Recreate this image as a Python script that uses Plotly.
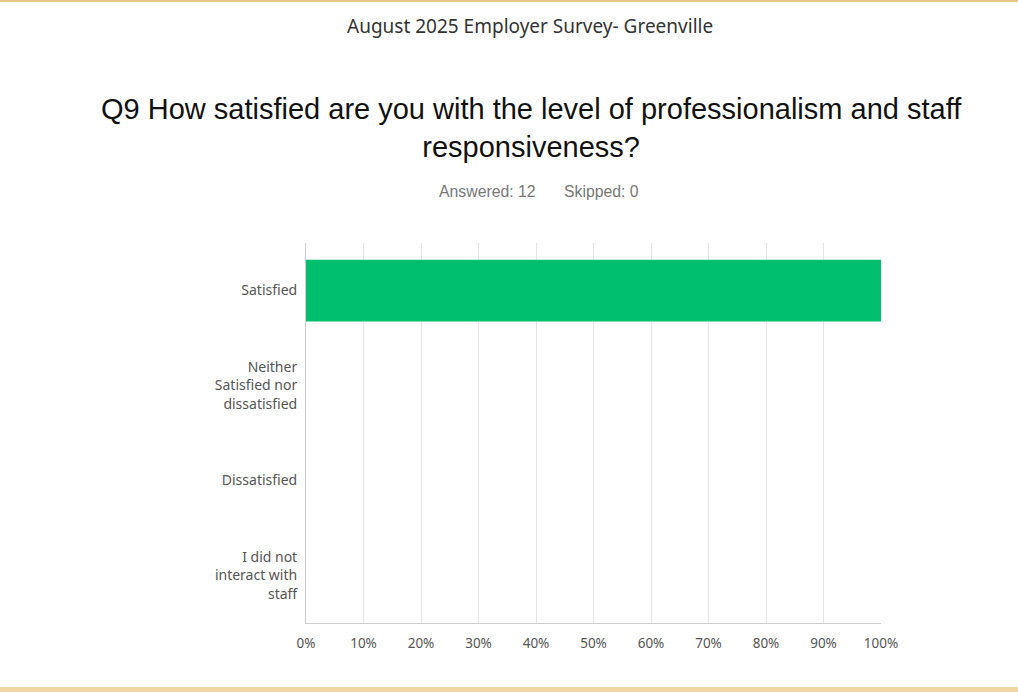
import plotly.graph_objects as go

categories = ["Satisfied", "Neither<br>Satisfied nor<br>dissatisfied", "Dissatisfied", "I did not<br>interact with<br>staff"]
percent_values = [100, 0, 0, 0]
x_tick_values = [0, 10, 20, 30, 40, 50, 60, 70, 80, 90, 100]
x_tick_labels = ["0%", "10%", "20%", "30%", "40%", "50%", "60%", "70%", "80%", "90%", "100%"]

W, H = 1018, 692
L, R, T, B = 306, 881, 243, 623

def xp(px):
    return (px - L) / (R - L)

def yp(py):
    return (B - py) / (B - T)

fig = go.Figure(go.Bar(
    x=percent_values, y=categories, orientation="h",
    marker=dict(color="#00bf6f", line=dict(width=0)),
    hoverinfo="skip",
))

fig.update_layout(
    width=W, height=H,
    margin=dict(l=L, r=W - R, t=T, b=H - B, pad=0),
    paper_bgcolor="white", plot_bgcolor="white",
    bargap=0.35,
    showlegend=False,
    font=dict(family="Noto Sans", color="#333333"),
    xaxis=dict(
        range=[0, 100], tickvals=x_tick_values, ticktext=x_tick_labels,
        showgrid=True, gridcolor="#e6e6e6", gridwidth=1,
        showline=True, linecolor="#cfcfcf", linewidth=1,
        ticks="", ticklabelstandoff=8, zeroline=False,
        tickfont=dict(family="Noto Sans", size=13.5, color="#555555"),
        fixedrange=True,
    ),
    yaxis=dict(
        autorange="reversed",
        showgrid=False, showline=True, linecolor="#cfcfcf", linewidth=1,
        ticks="", ticklabelstandoff=5,
        tickfont=dict(family="Noto Sans", size=14, color="#555555"),
        fixedrange=True,
    ),
    annotations=[
        dict(text="August 2025 Employer Survey- Greenville", x=xp(530), y=yp(26),
             xref="paper", yref="paper", showarrow=False, xanchor="center", yanchor="middle",
             font=dict(family="Noto Sans", size=19, color="#333333")),
        dict(text="Q9 How satisfied are you with the level of professionalism and staff<br>responsiveness?",
             x=xp(531), y=yp(128), xref="paper", yref="paper", showarrow=False,
             xanchor="center", yanchor="middle", align="center",
             font=dict(family="Liberation Sans", size=29, color="#111111")),
        dict(text="Answered: 12", x=xp(538), y=yp(191),
             xref="paper", yref="paper", showarrow=False, xanchor="right", yanchor="middle",
             font=dict(family="Liberation Sans", size=15.8, color="#777777")),
        dict(text="Skipped: 0", x=xp(562), y=yp(191),
             xref="paper", yref="paper", showarrow=False, xanchor="left", yanchor="middle",
             font=dict(family="Liberation Sans", size=15.8, color="#777777")),
    ],
    shapes=[
        dict(type="rect", xref="paper", yref="paper", x0=xp(0), x1=xp(W), y0=yp(0), y1=yp(2),
             fillcolor="#e8c88a", line=dict(width=0), layer="above"),
        dict(type="rect", xref="paper", yref="paper", x0=xp(0), x1=xp(W), y0=yp(687), y1=yp(692),
             fillcolor="#efd6a4", line=dict(width=0), layer="above"),
    ],
)

fig.write_html("out.html", config={"displayModeBar": False},
               post_script="document.body.style.margin='0px';document.body.style.overflow='hidden';")
